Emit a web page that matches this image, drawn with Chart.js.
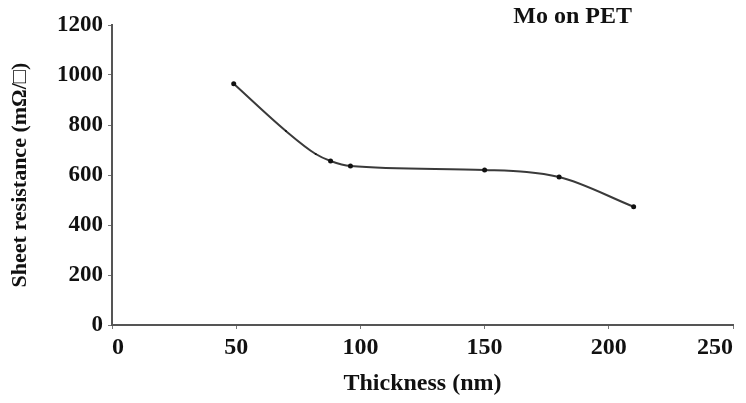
<!DOCTYPE html>
<html>
<head>
<meta charset="utf-8">
<script src="https://cdn.jsdelivr.net/npm/chart.js@4.4.1/dist/chart.umd.min.js"></script>
<style>
  html, body { margin: 0; padding: 0; background: #fff; }
  #wrap { width: 746px; height: 403px; }
</style>
</head>
<body>
<div id="wrap"><canvas id="sheet-chart" width="746" height="403"></canvas></div>
<script>
// thickness (nm) vs sheet resistance (mOhm/sq)
var thickness = [49, 70, 82, 88, 96, 150, 180, 210];
var resistance = [965, 776, 684, 656, 636, 620, 592, 473];
var xTicks = [0, 50, 100, 150, 200, 250];
var yTicks = [0, 200, 400, 600, 800, 1000, 1200];

var serif = "'Liberation Serif', 'Times New Roman', serif";

var points = [];
for (var i = 0; i < thickness.length; i++) {
  points.push({ x: thickness[i], y: resistance[i] });
}

// label in the upper right corner
var cornerLabel = {
  id: 'cornerLabel',
  afterDraw: function (chart) {
    var ctx = chart.ctx;
    ctx.save();
    ctx.font = 'bold 24px ' + serif;
    ctx.fillStyle = '#111';
    ctx.textAlign = 'right';
    ctx.textBaseline = 'top';
    ctx.fillText('Mo on PET', chart.chartArea.right - 101, 5);
    ctx.restore();
  }
};

var sheetChart = new Chart(
  document.getElementById('sheet-chart').getContext('2d'),
  {
    type: 'scatter',
    data: {
      datasets: [{
        data: points,
        showLine: true,
        borderColor: '#3a3a3a',
        borderWidth: 2,
        cubicInterpolationMode: 'monotone',
        pointRadius: [2.5, 1, 1, 2.5, 2.5, 2.5, 2.5, 2.5],
        pointBackgroundColor: '#111',
        pointBorderColor: '#111',
        pointBorderWidth: 0
      }]
    },
    plugins: [cornerLabel],
    options: {
      responsive: false,
      animation: false,
      layout: { padding: { top: 25, right: 13, bottom: 0, left: 0 } },
      plugins: {
        legend: { display: false },
        tooltip: { enabled: false }
      },
      scales: {
        x: {
          type: 'linear',
          min: 0,
          max: 250,
          afterBuildTicks: function (axis) {
            axis.ticks = xTicks.map(function (v) { return { value: v }; });
          },
          afterFit: function (axis) {
            axis.height = 78;
            axis.paddingLeft = 0;
            axis.paddingRight = 0;
          },
          border: { color: '#555', width: 2 },
          grid: { drawOnChartArea: false, tickLength: 4, color: '#777' },
          ticks: {
            color: '#111',
            padding: 4,
            align: 'inner',
            maxRotation: 0,
            callback: function (v) { return String(v); },
            font: { family: serif, size: 24, weight: 'bold' }
          },
          title: {
            display: true,
            text: 'Thickness (nm)',
            color: '#111',
            padding: { top: 0, bottom: 5 },
            font: { family: serif, size: 24, weight: 'bold' }
          }
        },
        y: {
          min: 0,
          max: 1200,
          afterBuildTicks: function (axis) {
            axis.ticks = yTicks.map(function (v) { return { value: v }; });
          },
          afterFit: function (axis) {
            axis.width = 112;
          },
          border: { color: '#555', width: 2 },
          grid: { drawOnChartArea: false, tickLength: 4, color: '#777' },
          ticks: {
            color: '#111',
            padding: 5,
            callback: function (v) { return String(v); },
            font: { family: serif, size: 23, weight: 'bold' }
          },
          title: {
            display: true,
            text: 'Sheet resistance (mΩ/□)',
            color: '#111',
            padding: { top: 7, bottom: 0 },
            font: { family: serif, size: 22, weight: 'bold' }
          }
        }
      }
    }
  }
);
</script>
</body>
</html>
